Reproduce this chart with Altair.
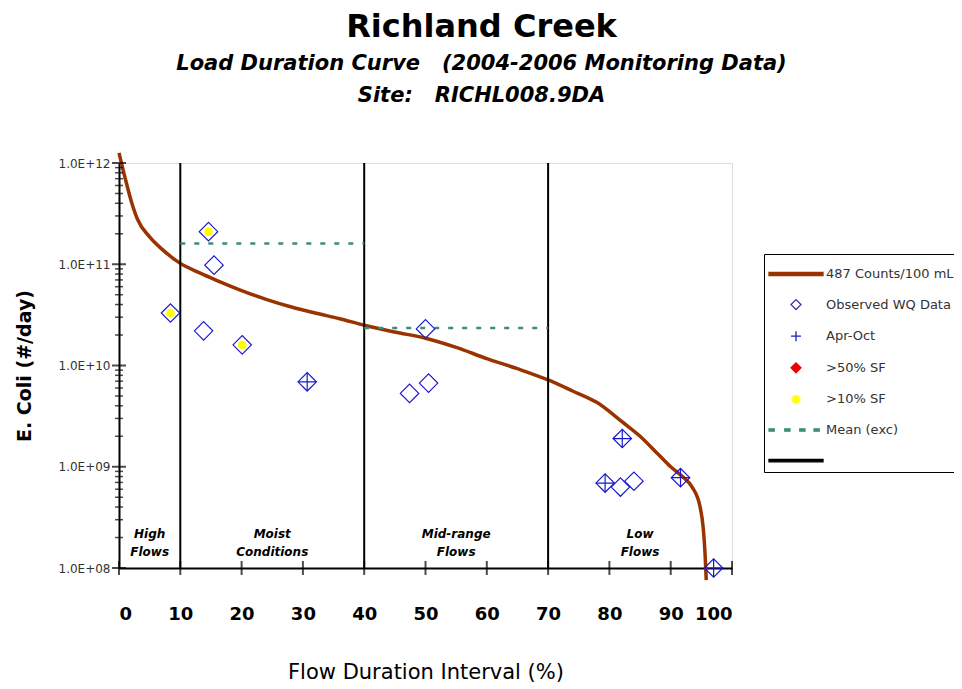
import altair as alt
import pandas as pd

# ---------------- data ----------------
# load duration curve (487 counts / 100 mL)
curve_x = [0, 1, 2, 3, 5, 7, 10, 13, 16, 20, 24, 28, 32, 36, 40, 45, 50, 55, 60, 65, 70,
           74, 78, 82, 85, 88, 90, 92, 93.5, 94.8, 95.3, 95.6, 95.8]
curve_y = [1.26e12, 7.1e11, 4.2e11, 2.8e11, 1.86e11, 1.41e11, 1.02e11, 8.3e10, 6.9e10, 5.5e10,
           4.5e10, 3.8e10, 3.3e10, 2.9e10, 2.5e10, 2.14e10, 1.86e10, 1.51e10, 1.17e10, 9.3e9,
           7.2e9, 5.6e9, 4.3e9, 2.8e9, 2.0e9, 1.32e9, 1.0e9, 7.9e8, 6.3e8, 4.0e8, 2.5e8, 1.4e8, 7.6e7]

# observed water-quality data
obs_x = [8.4, 13.8, 14.6, 15.5, 20.1, 30.7, 47.4, 50.0, 50.5, 79.3, 81.8, 82.1, 84.0, 91.6, 97.0]
obs_y = [3.3e10, 2.2e10, 2.1e11, 9.8e10, 1.6e10, 6.9e9, 5.3e9, 2.3e10, 6.7e9,
         6.9e8, 6.3e8, 1.9e9, 7.2e8, 7.8e8, 1.0e8]
apr_oct = [0, 0, 0, 0, 0, 1, 0, 0, 0, 1, 0, 1, 0, 1, 1]
sf10 = [1, 0, 1, 0, 1, 0, 0, 0, 0, 0, 0, 0, 0, 0, 0]

# mean (exceedance) per zone
mean_x1 = [10, 40]
mean_x2 = [40, 70]
mean_y = [1.6e11, 2.35e10]

# flow zones
zone_bounds = [10, 40, 70]
zone_x = [5, 25, 55, 85]
zone_text = ["High\nFlows", "Moist\nConditions", "Mid-range\nFlows", "Low\nFlows"]
zone_label_y = [2.15e8, 2.15e8, 2.15e8, 2.15e8]

x_ticks = [0, 10, 20, 30, 40, 50, 60, 70, 80, 90, 100]
y_major = [1e8, 1e9, 1e10, 1e11, 1e12]
y_minor = [k * 10 ** e for e in range(8, 12) for k in range(2, 10)]

# legend entries
leg_labels = ["487 Counts/100 mL", "Observed WQ Data", "Apr-Oct", ">50% SF", ">10% SF", "Mean (exc)", " "]
leg_paths = [
    "M-1.8,-0.1H1.8V0.1H-1.8Z",
    "M0,-0.33L0.33,0L0,0.33L-0.33,0Z",
    "M-0.33,0H0.33M0,-0.33V0.33",
    "M0,-0.33L0.33,0L0,0.33L-0.33,0Z",
    "M0.27,0A0.27,0.27 0 1,1 -0.27,0A0.27,0.27 0 1,1 0.27,0Z",
    "M-1.8,-0.08H-1.45V0.08H-1.8Z M-0.75,-0.08H-0.4V0.08H-0.75Z M0.25,-0.08H0.6V0.08H0.25Z M1.2,-0.08H1.55V0.08H1.2Z",
    "M-1.8,-0.08H1.8V0.08H-1.8Z",
]
leg_fill = ["#993300", "transparent", "transparent", "#ee0000", "#ffff00", "#3d8f73", "#000000"]
leg_stroke = ["#993300", "#3333aa", "#1a1acc", "#ee0000", "#ffff44", "#3d8f73", "#000000"]

# ---------------- frames ----------------
curve_df = pd.DataFrame({"x": curve_x, "y": curve_y})
obs_df = pd.DataFrame({"x": obs_x, "y": obs_y, "apr": apr_oct, "sf10": sf10})
mean_df = pd.DataFrame({"x": mean_x1, "x2": mean_x2, "y": mean_y})
zone_df = pd.DataFrame({"x": zone_bounds, "y": [1e8] * 3, "y2": [1e12] * 3})
zlab_df = pd.DataFrame({"x": zone_x, "y": zone_label_y, "t": zone_text})
xt_df = pd.DataFrame({"x": x_ticks, "y": [1e8] * len(x_ticks)})
ymaj_df = pd.DataFrame({"x": [0] * len(y_major), "y": y_major})
ymin_df = pd.DataFrame({"x": [0] * len(y_minor), "y": y_minor})
leg_df = pd.DataFrame({"x": [-50] * len(leg_labels), "y": [1e10] * len(leg_labels), "series": leg_labels})

FONT = "DejaVu Sans"
NB = "\u00a0"

xs = alt.Scale(domain=[0, 100], nice=False, zero=False)
ys = alt.Scale(type="log", domain=[1e8, 1e12], nice=False)

label_expr = ("'1.0E+' + (round(log(datum.value)/LN10) < 10 ? '0' : '') + round(log(datum.value)/LN10)")

x_enc = alt.X("x:Q", scale=xs, axis=alt.Axis(
    values=x_ticks, format="d", ticks=False, grid=False, domainColor="black", domainWidth=2,
    labelFont=FONT, labelFontSize=18, labelFontWeight="bold", labelColor="black", labelPadding=37,
    title="Flow Duration Interval (%)", titleFont=FONT, titleFontSize=21, titleFontWeight="normal",
    titleColor="black", titlePadding=38))
y_enc = alt.Y("y:Q", scale=ys, axis=alt.Axis(
    values=y_major, labelExpr=label_expr, ticks=False, grid=False, domainColor="black", domainWidth=2,
    labelFont=FONT, labelFontSize=12, labelColor="#333333", labelPadding=9,
    title="E. Coli (#/day)", titleFont=FONT, titleFontSize=19, titleFontWeight="bold",
    titleColor="black", titlePadding=24))

zones = alt.Chart(zone_df).mark_rule(color="black", strokeWidth=2).encode(
    x=alt.X("x:Q", scale=xs), y=alt.Y("y:Q", scale=ys), y2="y2:Q")

means = alt.Chart(mean_df).mark_rule(color="#3d8f73", strokeWidth=2.5, strokeDash=[5, 9]).encode(
    x=alt.X("x:Q", scale=xs), x2="x2:Q", y=alt.Y("y:Q", scale=ys))

curve = alt.Chart(curve_df).mark_line(color="#993300", strokeWidth=3.5, interpolate="monotone").encode(
    x=x_enc, y=y_enc)

yellow = alt.Chart(obs_df).transform_filter("datum.sf10 == 1").mark_point(
    shape="circle", filled=True, color="#ffff00", size=75, opacity=1).encode(
    x=alt.X("x:Q", scale=xs), y=alt.Y("y:Q", scale=ys))

diam = alt.Chart(obs_df).mark_point(
    shape="diamond", filled=False, color="#1a1acc", size=340, strokeWidth=1.2, opacity=1).encode(
    x=alt.X("x:Q", scale=xs), y=alt.Y("y:Q", scale=ys))

plus = alt.Chart(obs_df).transform_filter("datum.apr == 1").mark_point(
    shape="M-1,0H1M0,-1V1", filled=False, color="#1a1acc", size=340, strokeWidth=1.2, opacity=1).encode(
    x=alt.X("x:Q", scale=xs), y=alt.Y("y:Q", scale=ys))

xticks = alt.Chart(xt_df).mark_tick(orient="vertical", size=14, thickness=2, color="black").encode(
    x=alt.X("x:Q", scale=xs), y=alt.Y("y:Q", scale=ys))
ymaj = alt.Chart(ymaj_df).mark_tick(orient="horizontal", size=14, thickness=2, color="black").encode(
    x=alt.X("x:Q", scale=xs), y=alt.Y("y:Q", scale=ys))
ymin = alt.Chart(ymin_df).mark_tick(orient="horizontal", size=8, thickness=1.5, color="black").encode(
    x=alt.X("x:Q", scale=xs), y=alt.Y("y:Q", scale=ys))

zlab = alt.Chart(zlab_df).mark_text(
    font=FONT, fontSize=12, fontStyle="italic", fontWeight="bold", lineBreak="\n", lineHeight=18,
    baseline="middle", align="center", color="black").encode(
    x=alt.X("x:Q", scale=xs), y=alt.Y("y:Q", scale=ys), text="t:N")

legend_cfg = alt.Legend(
    title=None, orient="none", legendX=645, legendY=91, symbolSize=900, symbolStrokeWidth=1.3,
    labelFont=FONT, labelFontSize=13, labelColor="#333333", strokeColor="black", fillColor="white",
    padding=4, rowPadding=7.6, symbolOffset=12, labelOffset=14, labelLimit=300)

leg = alt.Chart(leg_df).mark_point(size=900, opacity=1, clip=True).encode(
    x=alt.X("x:Q", scale=xs), y=alt.Y("y:Q", scale=ys),
    shape=alt.Shape("series:N", scale=alt.Scale(domain=leg_labels, range=leg_paths), legend=legend_cfg),
    fill=alt.Fill("series:N", scale=alt.Scale(domain=leg_labels, range=leg_fill), legend=legend_cfg),
    stroke=alt.Stroke("series:N", scale=alt.Scale(domain=leg_labels, range=leg_stroke), legend=legend_cfg),
)

chart = alt.layer(curve, zones, means, yellow, diam, plus, xticks, ymaj, ymin, zlab, leg).properties(
    width=613, height=405,
    autosize=alt.AutoSizeParams(type="none"),
    padding={"left": 111, "top": 155, "right": 222, "bottom": 121},
    title=alt.TitleParams(
        text="Richland Creek",
        subtitle=["Load Duration Curve" + NB * 3 + "(2004-2006 Monitoring Data)",
                  "Site:" + NB * 3 + "RICHL008.9DA"],
        font=FONT, fontSize=32, fontWeight="bold", color="black",
        subtitleFont=FONT, subtitleFontSize=21, subtitleFontWeight="bold", subtitleFontStyle="italic",
        subtitleColor="black", subtitleLineHeight=32, subtitlePadding=9,
        anchor="middle", frame="group", dx=56, offset=39),
).configure_view(stroke="black", strokeWidth=2).configure(background="white")

chart.save("out.html", embed_options={"renderer": "svg", "actions": False})
